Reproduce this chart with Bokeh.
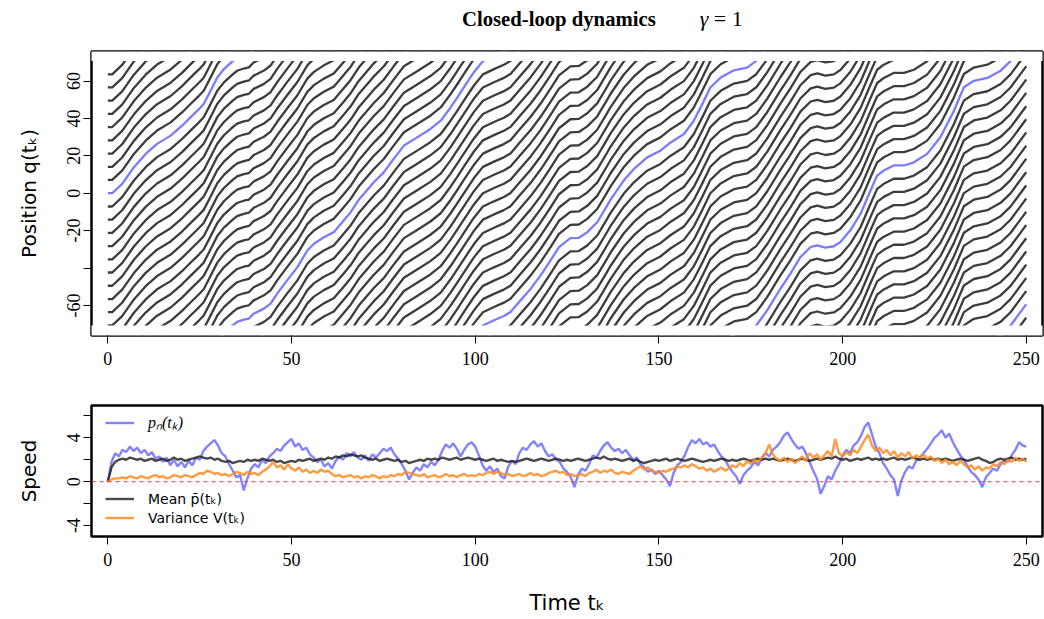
import numpy as np
from bokeh.plotting import figure
from bokeh.layouts import column
from bokeh.models import Range1d, FixedTicker, Span, Legend, LegendItem, Div
from bokeh.embed import file_html
from bokeh.resources import INLINE

# ---------------- data ----------------
RING_HALF = 70.71
RING_LENGTH = 141.42

# initial positions of the 20 particles (index 10 is the highlighted particle n)
start_positions = [-70.7, -63.6, -56.6, -49.5, -42.4, -35.4, -28.3, -21.2, -14.1, -7.1,
                   0.0, 7.1, 14.1, 21.2, 28.3, 35.4, 42.4, 49.5, 56.6, 63.6]
highlight_index = 10

# highlighted particle: time and unwrapped position
blue_t = [0, 1.2, 3.9, 7.1, 10.3, 13.4, 17.1, 20.2, 22.5, 24.8, 26.1, 27.5, 29.8, 31.6, 34.0,
          35.2, 37.0, 38.4, 39.7, 42.5, 44.3, 46.1, 48.8, 51.6, 54.3, 56.1, 58.8, 61.5, 64.2,
          66.1, 68.3, 72.4, 75.1, 77.8, 80.6, 84.2, 87.8, 90.6, 93.3, 95.1, 96.9, 99.6, 102.1,
          105.1, 107.8, 109.6, 112.3, 115.1, 117.8, 120.5, 122.8, 125.9, 128.2, 130.5, 133.2,
          135.9, 136.8, 140.4, 143.2, 146.8, 150.4, 153.2, 156.8, 159.5, 161.8, 164.0, 166.8,
          170.4, 174.0, 176.5, 179.5, 183.1, 185.8, 188.5, 191.3, 193.1, 195.3, 197.6, 199.4,
          202.1, 204.9, 207.6, 209.4, 211.2, 213.9, 216.7, 219.4, 223.0, 226.6, 230.3, 233.0,
          235.7, 239.4, 243.0, 245.7, 249.8, 250.0]
blue_q = [0.0, 0.0, 5.0, 13.9, 21.0, 26.4, 30.8, 36.1, 40.6, 45.0, 47.7, 53.0, 61.9, 66.4, 70.7,
          72.6, 73.8, 74.4, 77.0, 79.7, 82.4, 87.7, 94.8, 101.9, 110.8, 114.4, 117.9, 120.6, 126.8,
          131.3, 137.9, 147.3, 152.6, 159.8, 166.9, 171.3, 175.8, 180.2, 187.3, 192.6, 198.0, 206.0, 212.1,
          214.9, 217.2, 219.3, 225.5, 231.8, 238.9, 246.9, 254.0, 258.8, 259.0, 262.0, 267.3,
          276.2, 279.3, 289.6, 295.8, 302.0, 305.6, 310.0, 314.5, 321.6, 330.5, 339.4, 344.7,
          348.6, 350.0, 353.6, 361.7, 373.3, 381.3, 390.1, 395.5, 396.4, 395.2, 395.9, 398.2,
          404.4, 413.3, 425.7, 433.7, 436.4, 439.1, 439.1, 440.8, 445.3, 454.2, 468.4, 480.9,
          484.4, 485.9, 489.8, 494.9, 505.8, 506.2]

# lower panel, sampled at t = 0, 1, ..., 250
time_grid = list(range(251))
speed_pn = [
    0.0, 1.8, 2.6, 2.3, 2.9, 2.7, 3.2, 2.8, 3.1, 2.6, 2.9, 2.4, 2.7, 2.1, 2.3, 1.8, 2.2, 1.5, 2.0, 1.4,
    1.8, 1.3, 1.9, 1.5, 2.2, 2.0, 2.8, 3.2, 3.5, 3.8, 3.3, 2.6, 2.3, 1.6, 1.0, 0.4, 0.6, -0.8, 0.3, 1.2,
    1.6, 1.3, 2.0, 1.7, 2.3, 2.6, 3.0, 2.8, 3.3, 3.6, 3.9, 3.2, 3.5, 2.9, 3.1, 2.5, 2.2, 1.8, 2.0, 1.4,
    1.7, 1.2, 1.9, 2.3, 2.0, 2.6, 2.3, 2.7, 2.2, 2.0, 2.4, 1.9, 2.5, 2.2, 2.6, 3.0, 2.8, 3.1, 2.5, 2.1,
    1.6, 1.0, 0.2, 0.8, 1.3, 1.0, 1.6, 1.3, 1.8, 1.5, 2.0, 2.8, 3.4, 3.1, 3.5, 3.0, 2.3, 2.9, 3.4, 3.6,
    3.2, 2.4, 1.5, 1.0, 1.4, 0.9, 1.2, 0.5, 0.3, 1.4, 1.9, 1.6, 2.6, 3.1, 2.9, 3.4, 3.7, 3.2, 3.5, 2.8,
    2.3, 2.5, 2.0, 1.8, 1.2, 0.9, 0.4, -0.5, 0.6, 1.2, 1.0, 1.6, 2.4, 2.2, 2.8, 3.3, 3.6, 3.1, 2.8, 3.0,
    2.6, 2.9, 2.4, 2.0, 2.2, 1.6, 1.3, 0.9, 1.1, 0.7, 1.0, 0.6, 0.2, -0.4, 0.8, 1.5, 1.8, 2.4, 3.2, 3.8,
    3.5, 3.9, 3.4, 3.6, 3.2, 3.4, 2.8, 2.3, 2.0, 1.4, 0.9, 0.5, -0.2, 0.6, 1.0, 1.3, 1.8, 1.5, 2.1, 2.6,
    2.3, 2.9, 3.2, 3.6, 4.2, 4.5, 3.9, 3.4, 3.0, 3.2, 2.6, 1.8, 1.0, 0.3, -1.1, -0.4, 0.5, 0.2, 1.0, 1.6,
    2.4, 2.9, 2.6, 3.3, 3.6, 4.2, 5.0, 5.4, 4.3, 3.2, 2.6, 1.7, 1.2, 0.6, 0.2, -1.3, 0.1, 0.9, 1.4, 1.2,
    1.9, 2.2, 2.6, 3.0, 3.5, 4.0, 4.3, 4.7, 4.0, 4.4, 3.6, 3.0, 2.4, 2.0, 1.4, 0.9, 0.6, 0.2, -0.5, 0.4,
    0.8, 1.2, 1.0, 1.6, 1.9, 1.8, 2.4, 2.9, 3.6, 3.3, 3.2]
speed_mean = [
    0.0, 1.3, 1.8, 2.0, 2.1, 2.0, 2.2, 2.1, 2.0, 2.1, 1.9, 2.0, 2.1, 1.9, 2.0, 2.1, 1.9, 2.0, 2.2, 2.0,
    2.1, 1.9, 2.0, 2.1, 2.2, 2.3, 2.2, 2.1, 2.2, 2.0, 2.1, 1.9, 1.8, 1.9, 1.7, 1.8, 1.9, 1.8, 2.0, 1.9,
    2.0, 1.9, 2.1, 2.0, 1.9, 2.0, 1.8, 1.9, 1.7, 1.8, 1.9, 1.8, 2.0, 1.9, 2.0, 2.1, 1.9, 2.0, 2.1, 2.0,
    2.2, 2.1, 2.3, 2.2, 2.4, 2.3, 2.5, 2.4, 2.3, 2.4, 2.2, 2.1, 2.0, 2.1, 1.9, 2.0, 2.1, 2.0, 1.9, 2.0,
    1.8, 1.9, 1.7, 1.8, 1.9, 2.0, 1.9, 2.1, 2.0, 2.1, 2.0, 2.2, 2.1, 2.0, 2.1, 2.2, 2.0, 2.1, 2.2, 2.1,
    2.0, 2.1, 2.0, 1.9, 2.0, 2.1, 1.9, 2.0, 1.9, 1.8, 1.9, 1.8, 1.9, 2.0, 2.1, 2.0, 1.9, 2.0, 2.1, 2.0,
    1.9, 2.0, 2.1, 2.0, 1.9, 2.0, 1.9, 2.0, 2.1, 2.0, 1.9, 2.0, 2.1, 2.2, 2.1, 2.3, 2.1, 2.0, 2.1, 2.0,
    1.9, 2.0, 2.1, 1.9, 2.0, 1.8, 1.7, 1.8, 1.9, 2.0, 1.9, 2.0, 2.1, 1.9, 2.0, 2.1, 2.0, 1.9, 2.0, 2.1,
    2.0, 1.9, 1.8, 1.9, 2.0, 1.9, 2.0, 2.1, 2.0, 1.9, 2.0, 1.9, 2.0, 2.1, 2.0, 1.9, 2.0, 2.1, 2.0, 2.1,
    2.0, 2.1, 2.0, 1.9, 2.0, 2.1, 2.0, 1.9, 2.0, 2.1, 2.0, 1.9, 2.0, 2.1, 2.0, 2.1, 2.2, 2.1, 2.3, 2.1,
    2.0, 2.1, 1.9, 2.0, 2.1, 2.0, 2.1, 2.2, 2.0, 2.1, 2.0, 2.1, 2.0, 2.1, 2.2, 2.0, 2.1, 2.0, 2.1, 2.2,
    2.1, 2.0, 2.1, 2.0, 2.1, 2.0, 2.1, 2.0, 2.1, 2.0, 1.9, 2.0, 2.1, 2.0, 1.9, 2.0, 2.1, 2.2, 2.0, 1.9,
    1.7, 1.8, 2.0, 2.1, 2.0, 2.1, 2.2, 2.0, 2.1, 2.0, 2.1]
speed_var = [
    0.0, 0.2, 0.3, 0.3, 0.4, 0.3, 0.5, 0.4, 0.3, 0.5, 0.4, 0.3, 0.5, 0.6, 0.4, 0.5, 0.3, 0.4, 0.6, 0.5,
    0.4, 0.6, 0.5, 0.4, 0.6, 0.8, 0.7, 1.0, 0.9, 0.7, 0.8, 0.6, 0.7, 0.5, 0.7, 0.9, 0.8, 0.6, 0.9, 0.7,
    0.8, 0.6, 0.9, 1.1, 1.4, 1.8, 1.3, 1.5, 1.1, 1.6, 1.2, 1.0, 1.3, 0.9, 1.1, 0.8, 1.0, 0.8, 1.1, 0.9,
    1.0, 0.7, 0.5, 0.6, 0.4, 0.5, 0.6, 0.4, 0.5, 0.3, 0.5, 0.4, 0.6, 0.5, 0.3, 0.5, 0.4, 0.6, 0.5, 0.7,
    0.6, 0.9, 0.8, 0.7, 0.6, 0.5, 0.7, 0.4, 0.5, 0.6, 0.4, 0.5, 0.7, 0.5, 0.6, 0.4, 0.6, 0.7, 0.5, 0.6,
    0.5, 0.7, 0.6, 0.8, 0.9, 0.7, 0.9, 0.8, 0.6, 0.7, 0.5, 0.6, 0.7, 0.5, 0.6, 0.8, 0.6, 0.7, 0.5, 0.6,
    0.8, 0.9, 1.0, 0.8, 0.9, 0.6, 0.7, 0.5, 0.6, 0.7, 0.5, 0.8, 0.9, 1.1, 0.8, 1.0, 0.9, 1.1, 0.8, 0.7,
    0.9, 0.8, 0.7, 1.0, 1.2, 1.4, 1.1, 1.3, 1.0, 0.9, 0.8, 1.0, 0.9, 1.1, 1.2, 1.4, 1.3, 1.5, 1.3, 1.6,
    1.4, 1.2, 1.3, 1.0, 1.2, 0.9, 1.1, 1.3, 1.0, 1.2, 1.5, 1.3, 1.7, 1.4, 1.9, 1.6, 2.0, 1.8, 2.2, 2.6,
    3.4, 2.5, 2.1, 1.9, 2.2, 1.8, 2.1, 1.7, 2.0, 2.3, 1.9, 2.6, 2.2, 2.5, 2.0, 2.4, 2.8, 2.3, 3.9, 2.6,
    2.3, 2.7, 2.4, 2.9, 2.6, 3.2, 3.8, 4.3, 3.3, 2.8, 3.1, 2.6, 2.9, 2.4, 2.8, 2.2, 2.6, 2.3, 2.7, 2.1,
    2.4, 2.2, 2.5, 2.1, 2.3, 1.9, 2.1, 1.7, 2.0, 1.6, 1.8, 1.5, 1.9, 1.6, 1.3, 1.5, 1.1, 1.4, 1.0, 1.3,
    1.2, 1.6, 1.4, 1.8, 1.6, 2.0, 1.8, 2.2, 1.9, 2.1, 1.8]

x_ticks = [0, 50, 100, 150, 200, 250]
q_ticks = [-60, -40, -20, 0, 20, 40, 60]
q_tick_labels = {-60: "-60", -40: "", -20: "-20", 0: "0", 20: "20", 40: "40", 60: "60"}
speed_ticks = [-4, -2, 0, 2, 4, 6]
speed_tick_labels = {-4: "-4", -2: "", 0: "0", 2: "", 4: "4", 6: ""}

# ---------------- style ----------------
DARK = "#3d3d3d"
BLUE = "#7b7bff"
ORANGE = "#ff8a1f"
W = 1044
X_RANGE = (-4.44, 254.4)


def style_axes(p):
    for ax in p.axis:
        ax.axis_line_color = None
        ax.major_tick_line_color = "black"
        ax.major_tick_line_width = 1
        ax.major_tick_out = 8
        ax.major_tick_in = 0
        ax.minor_tick_line_color = None
        ax.major_label_text_font = "Liberation Serif"
        ax.major_label_text_font_size = "18px"
        ax.major_label_text_color = "black"
        ax.axis_label_text_font = "DejaVu Sans"
        ax.axis_label_text_font_style = "normal"
        ax.axis_label_text_font_size = "20px"
        ax.axis_label_text_color = "black"
    p.xaxis.major_label_standoff = 8
    p.yaxis.major_label_standoff = 3
    p.yaxis.major_label_orientation = "vertical"
    p.yaxis.axis_label_standoff = 24
    p.xaxis.ticker = FixedTicker(ticks=x_ticks)
    p.grid.visible = False
    p.outline_line_color = "black"
    p.outline_line_width = 2.5
    p.background_fill_color = "white"
    p.border_fill_color = "white"


# ---------------- title ----------------
title = Div(text="Closed-loop dynamics<span style='margin-left:44px; font-weight:normal; "
                 "font-size:22px'><i>γ</i> = 1</span>",
            width=W, height=30, margin=(0, 0, 0, 0),
            styles={"font-family": "Liberation Serif", "font-weight": "bold",
                    "font-size": "20.7px", "color": "black", "padding-left": "462px",
                    "padding-top": "6px", "white-space": "nowrap", "line-height": "1.15"})

# ---------------- top panel ----------------
top = figure(width=W, height=345, x_range=Range1d(*X_RANGE), y_range=Range1d(-76.1, 75.8),
             output_backend="svg", toolbar_location=None,
             min_border_left=91, min_border_right=2, min_border_top=21, min_border_bottom=40)
style_axes(top)
top.yaxis.ticker = FixedTicker(ticks=q_ticks)
top.yaxis.major_label_overrides = q_tick_labels
top.yaxis.axis_label = "Position q(tₖ)"

bt = np.array(blue_t, dtype=float)
bq = np.array(blue_q, dtype=float)
dark_xs, dark_ys, hl_xs, hl_ys = [], [], [], []
for j, q0 in enumerate(start_positions):
    path = bq + q0
    for m in range(-1, 7):
        y = path - m * RING_LENGTH
        if y.max() > -RING_HALF and y.min() < RING_HALF:
            if j == highlight_index:
                hl_xs.append(list(bt)); hl_ys.append(list(y))
            else:
                dark_xs.append(list(bt)); dark_ys.append(list(y))

top.multi_line(dark_xs, dark_ys, line_color=DARK, line_width=2.3, line_join="round")
top.multi_line(hl_xs, hl_ys, line_color=BLUE, line_width=2.3, line_join="round")
# ring boundaries: everything beyond the ring is blank
top.quad(left=-20, right=270, bottom=RING_HALF, top=120, fill_color="white", line_color=None)
top.quad(left=-20, right=270, bottom=-120, top=-RING_HALF, fill_color="white", line_color=None)

# ---------------- bottom panel ----------------
bot = figure(width=W, height=242, x_range=Range1d(*X_RANGE), y_range=Range1d(-5.0, 6.95),
             output_backend="svg", toolbar_location=None,
             min_border_left=91, min_border_right=2, min_border_top=30, min_border_bottom=81)
style_axes(bot)
bot.yaxis.ticker = FixedTicker(ticks=speed_ticks)
bot.yaxis.major_label_overrides = speed_tick_labels
bot.yaxis.axis_label = "Speed"
bot.xaxis.axis_label = "Time tₖ"
bot.xaxis.axis_label_text_font_size = "21px"
bot.xaxis.axis_label_standoff = 22

bot.add_layout(Span(location=0, dimension="width", line_color="#dd3344", line_dash="4 4",
                    line_width=1))
r_pn = bot.line(time_grid, speed_pn, line_color="#5a5aff", line_alpha=0.75, line_width=2.4)
r_mean = bot.line(time_grid, speed_mean, line_color="#1c1c1c", line_alpha=0.8, line_width=2.4)
r_var = bot.line(time_grid, speed_var, line_color=ORANGE, line_alpha=0.85, line_width=2.4)


def make_legend(items, loc, font="DejaVu Sans", style="normal", size="14px"):
    lg = Legend(items=items, location=loc, background_fill_alpha=0, border_line_color=None,
                margin=0, padding=0, spacing=0, glyph_width=29, glyph_height=19,
                label_height=19, label_standoff=14, label_text_font=font,
                label_text_font_style=style, label_text_font_size=size,
                label_text_color="black")
    return lg


bot.add_layout(make_legend([LegendItem(label="pₙ(tₖ)", renderers=[r_pn])], (14, 103),
                           font="Liberation Serif", style="italic", size="16px"))
bot.add_layout(make_legend([LegendItem(label="Mean p̄(tₖ)", renderers=[r_mean]),
                            LegendItem(label="Variance V(tₖ)", renderers=[r_var])], (14, 9)))

layout = column(title, top, bot, spacing=0)
open("out.html", "w").write(file_html(layout, INLINE))
